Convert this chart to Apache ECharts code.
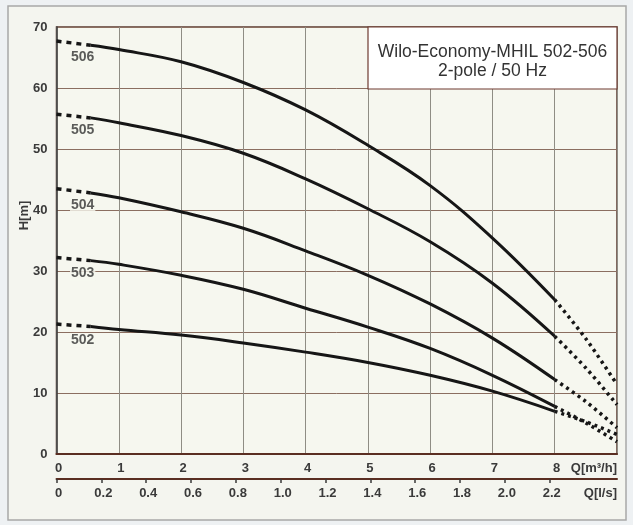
<!DOCTYPE html>
<html>
<head>
<meta charset="utf-8">
<script src="https://cdn.jsdelivr.net/npm/echarts@6/dist/echarts.min.js"></script>
<style>
  html, body { margin: 0; padding: 0; background: #eef1f3; }
  #chart { width: 633px; height: 525px; }
</style>
</head>
<body>
<div id="chart"></div>
<script>
// ---- data ----
const flowQ = [0, 0.55, 1, 2, 3, 4, 5, 6, 7, 8, 8.5, 9];          // Q [m³/h]
const pumpNames = ['502', '503', '504', '505', '506'];
const head502 = [21.3, 20.9, 20.4, 19.5, 18.2, 16.7, 15.0, 12.9, 10.3, 7.0, 5.3, 3.2];
const head503 = [32.2, 31.7, 31.1, 29.3, 27.0, 23.9, 20.8, 17.3, 12.9, 7.8, 5.1, 2.0];
const head504 = [43.5, 42.8, 42.0, 39.7, 37.0, 33.3, 29.3, 24.6, 19.0, 12.2, 8.6, 4.3];
const head505 = [55.7, 55.1, 54.3, 52.2, 49.3, 45.1, 40.2, 34.8, 28.0, 19.3, 14.1, 8.1];
const head506 = [67.7, 67.0, 66.3, 64.3, 60.9, 56.4, 50.6, 44.0, 35.4, 25.3, 18.9, 11.4];
const heads = [head502, head503, head504, head505, head506];
const ticksM3h = [0, 1, 2, 3, 4, 5, 6, 7, 8];
const ticksLs = [0, 0.2, 0.4, 0.6, 0.8, 1.0, 1.2, 1.4, 1.6, 1.8, 2.0, 2.2];
const ticksH = [0, 10, 20, 30, 40, 50, 60, 70];
const titleLines = ['Wilo-Economy-MHIL 502-506', '2-pole / 50 Hz'];

// index where solid part starts / ends
const solidStart = 1, solidEnd = 9;

const FONT = '"Liberation Sans", Arial, sans-serif';
const lineColor = '#161616';
const plotBg = '#f6f7ef';

const series = [];
heads.forEach((h, k) => {
  const pts = flowQ.map((q, i) => [q, h[i]]);
  series.push({
    type: 'line', xAxisIndex: 0, yAxisIndex: 0, showSymbol: false, silent: true,
    data: pts.slice(0, solidStart + 1), z: 3,
    lineStyle: { color: lineColor, width: 3.5, type: [5, 5] }
  });
  series.push({
    type: 'line', xAxisIndex: 0, yAxisIndex: 0, showSymbol: false, silent: true,
    data: pts.slice(solidStart, solidEnd + 1), smooth: 0.4, z: 3,
    lineStyle: { color: lineColor, width: 3 }
  });
  series.push({
    type: 'line', xAxisIndex: 0, yAxisIndex: 0, showSymbol: false, silent: true,
    data: pts.slice(solidEnd), smooth: 0.3, z: 3,
    lineStyle: { color: lineColor, width: 3.5, type: [3, 4] }
  });
});
// curve name labels, anchored to each curve's start point
series.push({
  type: 'scatter', xAxisIndex: 0, yAxisIndex: 0, silent: true, z: 4,
  symbolSize: 1, itemStyle: { color: 'rgba(0,0,0,0)' },
  data: heads.map((h, k) => ({ value: [flowQ[0], h[0]], name: pumpNames[k] })),
  label: {
    show: true, position: 'right', distance: 5, offset: [8, 16],
    formatter: p => p.name,
    fontFamily: FONT, fontSize: 14, fontWeight: 'bold', color: '#333',
    backgroundColor: plotBg, padding: [0, 1, 0, 1]
  }
});

const chart = echarts.init(document.getElementById('chart'), null, { renderer: 'canvas' });
chart.setOption({
  animation: false,
  backgroundColor: 'transparent',
  graphic: [
    { type: 'rect', z: -10, shape: { x: 8, y: 6, width: 618, height: 514 },
      style: { fill: '#f4f5ef', stroke: '#a8a8a8', lineWidth: 1.5 } },
    { type: 'rect', z: 10, shape: { x: 368, y: 27, width: 249, height: 62 },
      style: { fill: '#ffffff', stroke: '#6e3a30', lineWidth: 1.2 } },
    { type: 'text', z: 11, x: 492.5, y: 52,
      style: { text: titleLines[0], font: '17.5px ' + FONT, fill: '#333', align: 'center', verticalAlign: 'middle' } },
    { type: 'text', z: 11, x: 492.5, y: 71,
      style: { text: titleLines[1], font: '17.5px ' + FONT, fill: '#333', align: 'center', verticalAlign: 'middle' } }
  ],
  grid: {
    left: 56.5, right: 16, top: 27, bottom: 71,
    show: true, backgroundColor: plotBg, borderColor: '#5a3a30', borderWidth: 1.5
  },
  xAxis: [
    {
      type: 'value', min: 0, max: 9, interval: 1, position: 'bottom',
      name: 'Q[m³/h]', nameLocation: 'end', nameGap: 0, nameMoveOverlap: false,
      nameTextStyle: { fontFamily: FONT, fontSize: 13, fontWeight: 'bold', color: '#3a3a3a',
        align: 'right', verticalAlign: 'top', padding: [8, 0, 0, 0] },
      axisLine: { show: true, lineStyle: { color: '#5a2e22', width: 2 } },
      axisTick: { show: false },
      axisLabel: { customValues: ticksM3h, margin: 8, fontFamily: FONT, fontSize: 13, fontWeight: 'bold',
        color: '#3a3a3a', padding: [0, 0, 0, 4] },
      splitLine: { show: true, lineStyle: { color: '#8f8d84', width: 1 } }
    },
    {
      type: 'value', min: 0, max: 2.5, interval: 0.2, position: 'bottom', offset: 25,
      name: 'Q[l/s]', nameLocation: 'end', nameGap: 0, nameMoveOverlap: false,
      nameTextStyle: { fontFamily: FONT, fontSize: 13, fontWeight: 'bold', color: '#3a3a3a',
        align: 'right', verticalAlign: 'top', padding: [8, 0, 0, 0] },
      axisLine: { show: true, lineStyle: { color: '#5a2e22', width: 2 } },
      axisTick: { show: true, customValues: ticksLs, length: 4, lineStyle: { color: '#3a3a3a', width: 1.5 } },
      axisLabel: { customValues: ticksLs, margin: 8, fontFamily: FONT, fontSize: 13, fontWeight: 'bold',
        color: '#3a3a3a', padding: [0, 0, 0, 4], formatter: v => (v === 0 ? '0' : v.toFixed(1)) },
      splitLine: { show: false }
    }
  ],
  yAxis: {
    type: 'value', min: 0, max: 70, interval: 10,
    name: 'H[m]', nameLocation: 'middle', nameGap: 26, nameRotate: 90, nameMoveOverlap: false,
    nameTextStyle: { fontFamily: FONT, fontSize: 13, fontWeight: 'bold', color: '#3a3a3a', padding: [0, 0, 0, 50] },
    axisLine: { show: true, lineStyle: { color: '#3a3a3a', width: 1.5 } },
    axisTick: { show: false },
    axisLabel: { customValues: ticksH, margin: 9, fontFamily: FONT, fontSize: 13, fontWeight: 'bold', color: '#3a3a3a' },
    splitLine: { show: true, lineStyle: { color: '#8b6e60', width: 1 } }
  },
  series: series
});
</script>
</body>
</html>
